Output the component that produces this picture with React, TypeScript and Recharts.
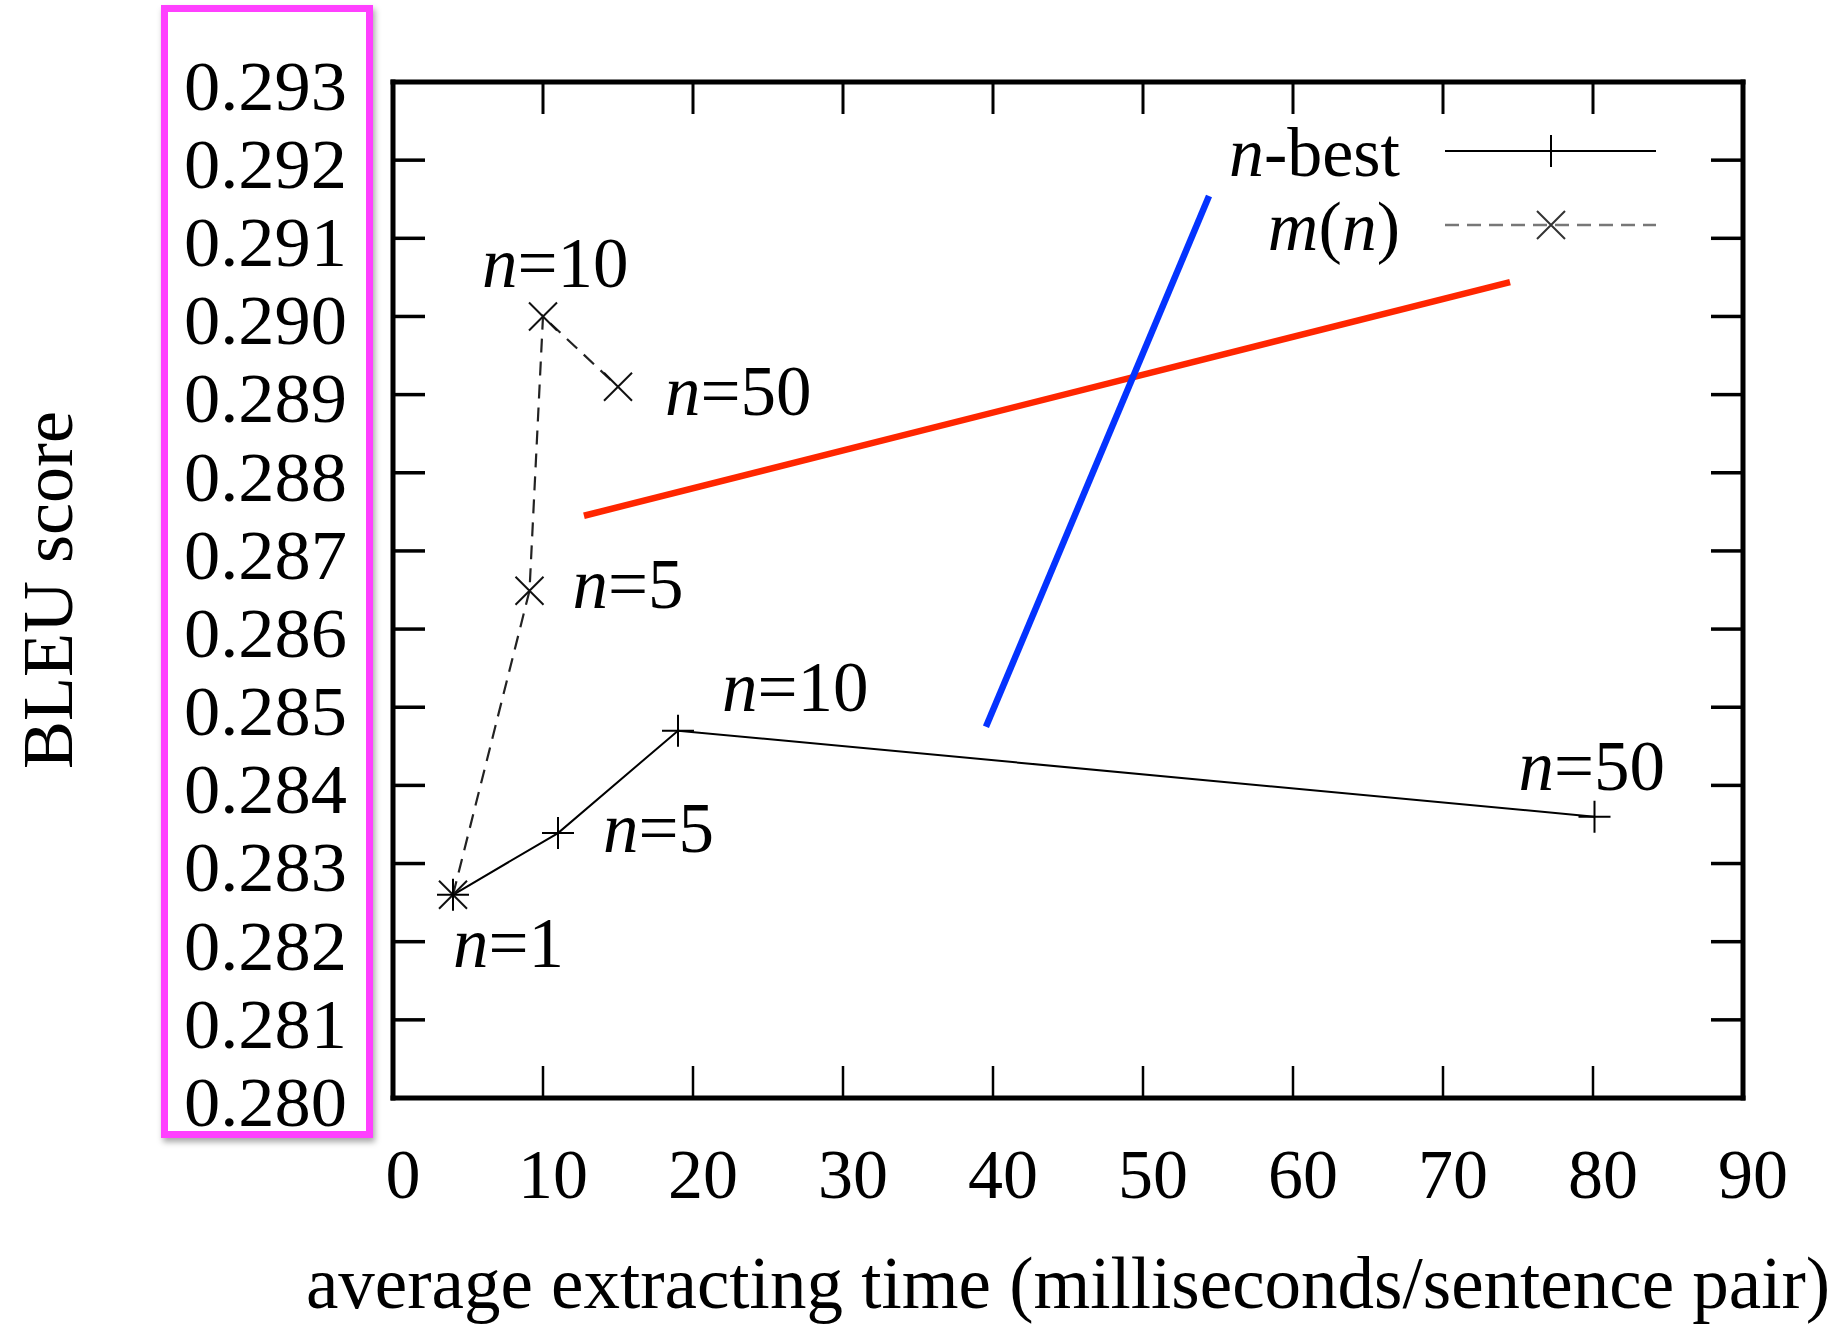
import React from 'react';
import { LineChart, Line, XAxis, YAxis, ReferenceLine, Legend, Label } from 'recharts';

// ---- data ----
const nValues = [1, 5, 10, 50];
const nBestTime = [4.0, 11.0, 19.0, 80.1];
const nBestBleu = [0.2826, 0.28339, 0.2847, 0.2836];
const mnTime = [4.0, 9.1, 10.0, 15.0];
const mnBleu = [0.2826, 0.28649, 0.29, 0.2891];

const xTicks = [0, 10, 20, 30, 40, 50, 60, 70, 80, 90];
const yTicks = [0.28, 0.281, 0.282, 0.283, 0.284, 0.285, 0.286, 0.287, 0.288, 0.289, 0.29, 0.291, 0.292, 0.293];

const redSegment = [{ x: 12.73, y: 0.28745 }, { x: 74.47, y: 0.29044 }];
const blueSegment = [{ x: 39.53, y: 0.28475 }, { x: 54.4, y: 0.29154 }];

const seriesNames = ['n-best', 'm(n)'];
const xTitle = 'average extracting time (milliseconds/sentence pair)';
const yTitle = 'BLEU score';

const nBestData = nValues.map((n, i) => ({ x: nBestTime[i], y: nBestBleu[i], n }));
const mnData = nValues.map((n, i) => ({ x: mnTime[i], y: mnBleu[i], n }));

// ---- style ----
const FONT = '"Liberation Serif", "Times New Roman", serif';
const W = 1845;
const H = 1326;
const nBestLabelOffset: (number[] | null)[] = [[0, 72], [45, 19], [44, -20], [-76, -27]];
const mnLabelOffset: (number[] | null)[] = [null, [43, 17], [-61, -29], [47, 28]];

const PointLabel = ({ x, y, n }: { x: number; y: number; n: number }) => (
  <text x={x} y={y} fontFamily={FONT} fontSize={71} fill="#000">
    <tspan fontStyle="italic">n</tspan>
    <tspan>={n}</tspan>
  </text>
);

const plusDot = (props: any) => {
  const { cx, cy, index, payload } = props;
  const off = nBestLabelOffset[index];
  return (
    <g key={`p-${index}`}>
      <path d={`M${cx - 16},${cy}h32M${cx},${cy - 16}v32`} stroke="#000" strokeWidth={2} fill="none" />
      {off && <PointLabel x={cx + off[0]} y={cy + off[1]} n={payload.n} />}
    </g>
  );
};

const crossDot = (props: any) => {
  const { cx, cy, index, payload } = props;
  const off = mnLabelOffset[index];
  const s = 14;
  return (
    <g key={`c-${index}`}>
      <path d={`M${cx - s},${cy - s}L${cx + s},${cy + s}M${cx - s},${cy + s}L${cx + s},${cy - s}`} stroke="#111" strokeWidth={2} fill="none" />
      {off && <PointLabel x={cx + off[0]} y={cy + off[1]} n={payload.n} />}
    </g>
  );
};

const XTick = (props: any) => {
  const { x, y, payload } = props;
  return (
    <text x={x + 10} y={y} dy="0.71em" textAnchor="middle" fontFamily={FONT} fontSize={70} fill="#000">
      {payload.value}
    </text>
  );
};

const YTick = (props: any) => {
  const { x, y, payload } = props;
  return (
    <text
      x={x - 163}
      y={y + 3}
      dy="0.355em"
      textAnchor="start"
      textLength={163}
      lengthAdjust="spacingAndGlyphs"
      fontFamily={FONT}
      fontSize={70}
      fill="#000"
    >
      {Number(payload.value).toFixed(3)}
    </text>
  );
};

const EmptyTick = () => <g />;

const LegendBox = () => (
  <svg width={700} height={200} style={{ overflow: 'visible' }}>
    <text x={400} y={86} textAnchor="end" fontFamily={FONT} fontSize={70} fill="#000">
      <tspan fontStyle="italic">n</tspan>
      <tspan>-best</tspan>
    </text>
    <line x1={445} x2={656} y1={61} y2={61} stroke="#000" strokeWidth={2} />
    <path d={`M${551 - 16},61h32M551,${61 - 16}v32`} stroke="#000" strokeWidth={2} />
    <text x={400} y={160} textAnchor="end" fontFamily={FONT} fontSize={70} fill="#000">
      <tspan fontStyle="italic">m</tspan>
      <tspan>(</tspan>
      <tspan fontStyle="italic">n</tspan>
      <tspan>)</tspan>
    </text>
    <line x1={445} x2={656} y1={135} y2={135} stroke="#777" strokeWidth={2.5} strokeDasharray="14 8" />
    <path d={`M${551 - 14},${135 - 14}L${551 + 14},${135 + 14}M${551 - 14},${135 + 14}L${551 + 14},${135 - 14}`} stroke="#333" strokeWidth={2} />
  </svg>
);

const axisLineStyle = { stroke: '#000', strokeWidth: 5, strokeLinecap: 'square' as const };

export default function App() {
  return (
    <div style={{ position: 'absolute', left: 0, top: 0, width: W, height: H, background: '#fff' }}>
      <LineChart width={W} height={H} margin={{ top: 72, right: 92, bottom: 128, left: 0 }}>
        <XAxis
          xAxisId={0}
          dataKey="x"
          type="number"
          domain={[0, 90]}
          ticks={xTicks}
          height={100}
          tickSize={-32}
          tickMargin={82}
          tickLine={{ stroke: '#000', strokeWidth: 2.5 }}
          axisLine={axisLineStyle}
          tick={<XTick />}
          interval={0}
        >
          <Label
            content={(p: any) => {
              const vb = p.viewBox;
              return (
                <text x={vb.x + vb.width / 2} y={vb.y + 210} textAnchor="middle" fontFamily={FONT} fontSize={73} fill="#000">
                  {xTitle}
                </text>
              );
            }}
          />
        </XAxis>
        <XAxis
          xAxisId="top"
          orientation="top"
          dataKey="x"
          type="number"
          domain={[0, 90]}
          ticks={xTicks}
          height={10}
          tickSize={-32}
          tick={<EmptyTick />}
          tickLine={{ stroke: '#000', strokeWidth: 3 }}
          axisLine={axisLineStyle}
          interval={0}
        />
        <YAxis
          yAxisId={0}
          type="number"
          domain={[0.28, 0.293]}
          ticks={yTicks}
          width={393}
          tickSize={-32}
          tickMargin={78}
          tickLine={{ stroke: '#000', strokeWidth: 3.5 }}
          axisLine={axisLineStyle}
          tick={<YTick />}
          interval={0}
        >
          <Label
            content={(p: any) => {
              const vb = p.viewBox;
              const cx = 48;
              const cy = vb.y + vb.height / 2;
              return (
                <text x={cx} y={cy} dy="0.33em" textAnchor="middle" transform={`rotate(-90, ${cx}, ${cy})`} fontFamily={FONT} fontSize={72} fill="#000">
                  {yTitle}
                </text>
              );
            }}
          />
        </YAxis>
        <YAxis
          yAxisId="right"
          orientation="right"
          type="number"
          domain={[0.28, 0.293]}
          ticks={yTicks}
          width={10}
          tickSize={-32}
          tick={<EmptyTick />}
          tickLine={{ stroke: '#000', strokeWidth: 3.5 }}
          axisLine={axisLineStyle}
          interval={0}
        />
        <ReferenceLine segment={redSegment} stroke="#ff2600" strokeWidth={6.5} ifOverflow="visible" />
        <ReferenceLine segment={blueSegment} stroke="#0433ff" strokeWidth={6.5} ifOverflow="visible" />
        <Line
          xAxisId="top"
          yAxisId="right"
          data={mnData}
          dataKey="y"
          type="linear"
          stroke="none"
          strokeWidth={0}
          dot={false}
          activeDot={false}
          legendType="none"
          isAnimationActive={false}
        />
        <Line
          name={seriesNames[1]}
          data={mnData}
          dataKey="y"
          type="linear"
          stroke="#222"
          strokeWidth={2.2}
          strokeDasharray="14 9"
          dot={crossDot}
          activeDot={false}
          isAnimationActive={false}
        />
        <Line
          name={seriesNames[0]}
          data={nBestData}
          dataKey="y"
          type="linear"
          stroke="#000"
          strokeWidth={2}
          dot={plusDot}
          activeDot={false}
          isAnimationActive={false}
        />
        <Legend
          layout="horizontal"
          verticalAlign="middle"
          align="center"
          wrapperStyle={{ left: 1000, top: 90, width: 700, height: 200 }}
          content={() => <LegendBox />}
        />
      </LineChart>
      <div
        style={{
          position: 'absolute',
          left: 161,
          top: 5,
          width: 212,
          height: 1133,
          boxSizing: 'border-box',
          border: '7px solid #ff40ff',
          boxShadow: '2px 4px 6px rgba(0,0,0,0.35)',
          pointerEvents: 'none',
        }}
      />
    </div>
  );
}
